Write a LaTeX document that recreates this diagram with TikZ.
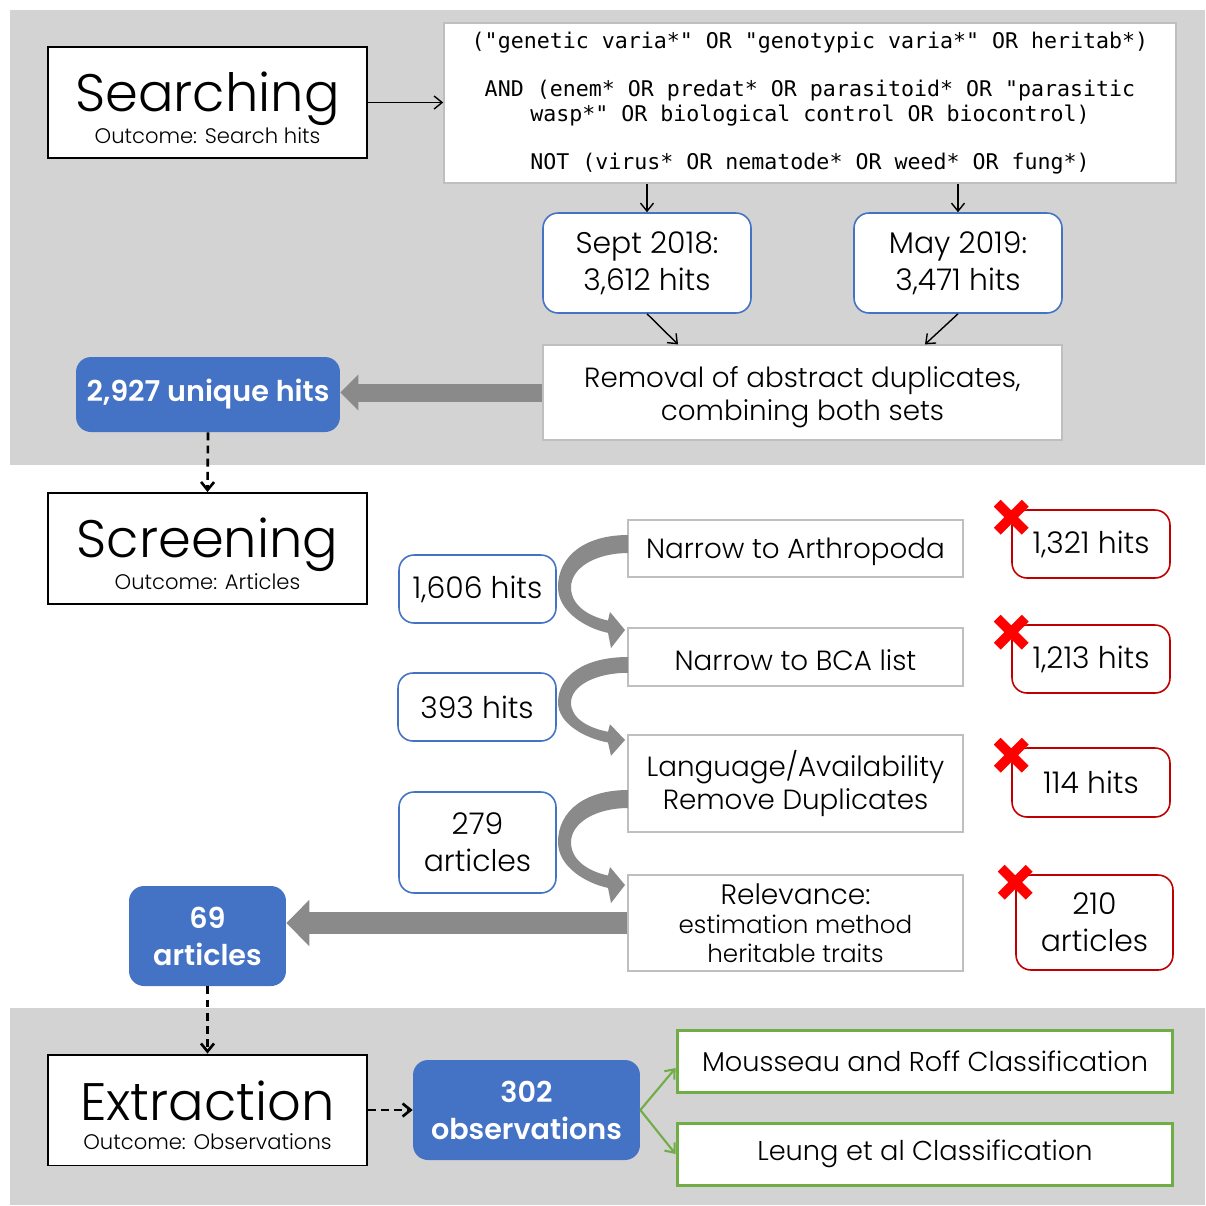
\documentclass[tikz,border=0pt]{standalone}
\usepackage{fontspec}
\setmainfont{Poppins}[UprightFont=* Light, BoldFont=* SemiBold]
\newfontfamily\querymono{DejaVu Sans Mono}
\usetikzlibrary{arrows.meta}
\usetikzlibrary{positioning}

\definecolor{bandgray}{RGB}{211,211,211}
\definecolor{hitblue}{RGB}{68,114,196}
\definecolor{dropred}{RGB}{192,0,0}
\definecolor{crossred}{RGB}{255,0,0}
\definecolor{classgreen}{RGB}{112,173,71}
\definecolor{flowgray}{RGB}{138,138,138}
\definecolor{stepgray}{RGB}{191,191,191}

\tikzset{
	stage/.style = {draw, line width = 1.1pt, fill = white, minimum width = 6.38cm, minimum height = 2.22cm, align = center, inner sep = 0pt, font = \fontsize{30}{17}\selectfont},
	query/.style = {draw = stepgray, line width = 1pt, fill = white, minimum width = 14.64cm, minimum height = 3.2cm, align = center, font = \querymono\fontsize{12.3}{14.2}\selectfont},
	hitbox/.style = {draw = hitblue, line width = 0.9pt, fill = white, rounded corners = 0.3cm, align = center, font = \fontsize{17}{21}\selectfont},
	countbox/.style = {fill = hitblue, rounded corners = 0.3cm, align = center, text = white, font = \bfseries\fontsize{16.3}{21}\selectfont},
	stepbox/.style = {draw = stepgray, line width = 0.7pt, fill = white, minimum width = 6.7cm, align = center, font = \fontsize{15.8}{19}\selectfont},
	dropbox/.style = {draw = dropred, line width = 0.9pt, fill = white, rounded corners = 0.3cm, minimum width = 3.16cm, align = center, font = \fontsize{17}{21}\selectfont},
	classbox/.style = {draw = classgreen, line width = 1.7pt, fill = white, minimum width = 9.92cm, minimum height = 1.24cm, font = \fontsize{15.5}{18}\selectfont},
	flow/.style = {line width = 0.8pt, -{Straight Barb[length=1.6mm,width=2.6mm]}},
	stageflow/.style = {flow, line width = 1.5pt, dashed, dash pattern = on 4.5pt off 3pt},
	bigflow/.style = {flowgray, line width = 0.36cm, -{Triangle[length=0.36cm,width=0.7cm]}},
	cross/.style = {crossred, line width = 5.5pt}
}

\begin{document}
\begin{tikzpicture}[x = 0.02cm, y = -0.02cm]
	\useasboundingbox (0,0) rectangle (1206,1205);
	\fill [bandgray] (10,10) rectangle (1205,465);
	\fill [bandgray] (10,1008) rectangle (1205,1205);

	% searching
	\node [stage] (search) at (207.5,102.5) {\rule{0pt}{28.5pt}Searching\\{\fontsize{12}{14}\selectfont Outcome: Search hits}};
	\node [query] (terms) at (810,103) {("genetic varia*" OR "genotypic varia*" OR heritab*)\\[0.46cm]
		AND (enem* OR predat* OR parasitoid* OR "parasitic\\wasp*" OR biological control OR biocontrol)\\[0.46cm]
		NOT (virus* OR nematode* OR weed* OR fung*)};
	\node [hitbox, minimum width = 4.16cm, minimum height = 2cm] (sept) at (647,263) {Sept 2018:\\3,612 hits};
	\node [hitbox, minimum width = 4.16cm, minimum height = 2cm] (may) at (958,263) {May 2019:\\3,471 hits};
	\node [stepbox, minimum width = 10.38cm, minimum height = 1.9cm] (removal) at (802.5,392.5) {\rule{0pt}{17pt}Removal of abstract duplicates,\\combining both sets};
	\node [countbox, minimum width = 5.28cm, minimum height = 1.5cm] (unique) at (208,394.5) {2,927 unique hits};

	\draw [flow] (search.east) -- (search.east -| terms.west);
	\draw [flow] (terms.south -| sept) -- (sept);
	\draw [flow] (terms.south -| may) -- (may);
	\draw [flow] (sept.south) -- ([xshift = -2.49cm]removal.north);
	\draw [flow] (may.south) -- ([xshift = 2.45cm]removal.north);
	\draw [bigflow] (removal.west) -- (removal.west -| unique.east);

	% screening
	\node [stage] (screen) at (207.5,548.5) {\rule{0pt}{28.5pt}Screening\\{\fontsize{12}{14}\selectfont Outcome: Articles}};
	\draw [stageflow] (unique.south) -- (screen.north);

	\node [stepbox, minimum height = 1.14cm] (arth) at (795.5,548.5) {\rule{0pt}{15pt}Narrow to Arthropoda};
	\node [stepbox, minimum height = 1.16cm] (bca) at (795.5,657) {\rule{0pt}{15pt}Narrow to BCA list};
	\node [stepbox, minimum height = 1.94cm] (lang) at (795.5,783.5) {Language/Availability\\Remove Duplicates};
	\node [stepbox, minimum height = 1.92cm, font = \fontsize{14}{16.5}\selectfont] (relev) at (795.5,923) {{\fontsize{16}{17}\selectfont Relevance:}\\estimation method\\heritable traits};

	\node [hitbox, minimum width = 3.14cm, minimum height = 1.36cm] (h1606) at (477.5,589) {1,606 hits};
	\node [hitbox, minimum width = 3.16cm, minimum height = 1.36cm] (h393) at (477,707) {393 hits};
	\node [hitbox, minimum width = 3.14cm, minimum height = 2.02cm] (a279) at (477.5,842.5) {279\\articles};

	\node [dropbox, minimum height = 1.36cm] (d1321) at (1091,544) {1,321 hits};
	\node [dropbox, minimum height = 1.36cm] (d1213) at (1091,659) {1,213 hits};
	\node [dropbox, minimum height = 1.38cm] (d114) at (1091,782.5) {114 hits};
	\node [dropbox, minimum width = 3.14cm, minimum height = 1.9cm] (d210) at (1094.5,922.5) {210\\articles};

	\foreach \drop in {d1321,d1213,d114,d210}
		\draw [cross] ([shift = {(-0.28cm,0.12cm)}]\drop.north west) -- ++(0.56cm,-0.56cm)
			([shift = {(0.28cm,0.12cm)}]\drop.north west) -- ++(-0.56cm,-0.56cm);

	\foreach \ya/\yb in {535/630, 657/740, 790/885}
	{
		\pgfmathsetmacro{\h}{\yb-\ya}
		\fill [flowgray] (628,\ya) .. controls (585,\ya) and (558,{\ya+0.22*\h}) .. (558,{\ya+0.55*\h})
			.. controls (558,{\ya+0.8*\h}) and (585,{\yb-0.02*\h}) .. (608,{\yb+0.03*\h})
			-- (611,{\yb+0.19*\h}) -- (625,\yb) -- (610,{\yb-0.19*\h}) -- (608,{\yb-0.1*\h})
			.. controls (590,{\yb-0.14*\h}) and (571,{\ya+0.75*\h}) .. (571,{\ya+0.55*\h})
			.. controls (571,{\ya+0.35*\h}) and (595,{\ya+0.19*\h}) .. (628,{\ya+0.19*\h}) -- cycle;
	}

	\node [countbox, minimum width = 3.14cm, minimum height = 2cm] (a69) at (207.5,936) {69\\articles};
	\draw [bigflow, line width = 0.44cm, -{Triangle[length=0.46cm,width=0.9cm]}] (relev.west) -- (relev.west -| a69.east);

	% extraction
	\node [stage] (extract) at (207.5,1110) {\rule{0pt}{28.5pt}Extraction\\{\fontsize{12}{14}\selectfont Outcome: Observations}};
	\draw [stageflow] (a69.south) -- (extract.north);
	\node [countbox, minimum width = 4.54cm, minimum height = 2cm] (obs) at (526.5,1110) {302\\observations};
	\draw [stageflow] (extract.east) -- (obs.west);

	\node [classbox] (mouss) at (925,1061) {Mousseau and Roff Classification};
	\node [classbox] (leung) at (925,1154) {Leung et al Classification};
	\draw [flow, classgreen, line width = 1.2pt] (obs.east) -- ([yshift = -0.14cm]mouss.west);
	\draw [flow, classgreen, line width = 1.2pt] (obs.east) -- (leung.west);
\end{tikzpicture}
\end{document}
